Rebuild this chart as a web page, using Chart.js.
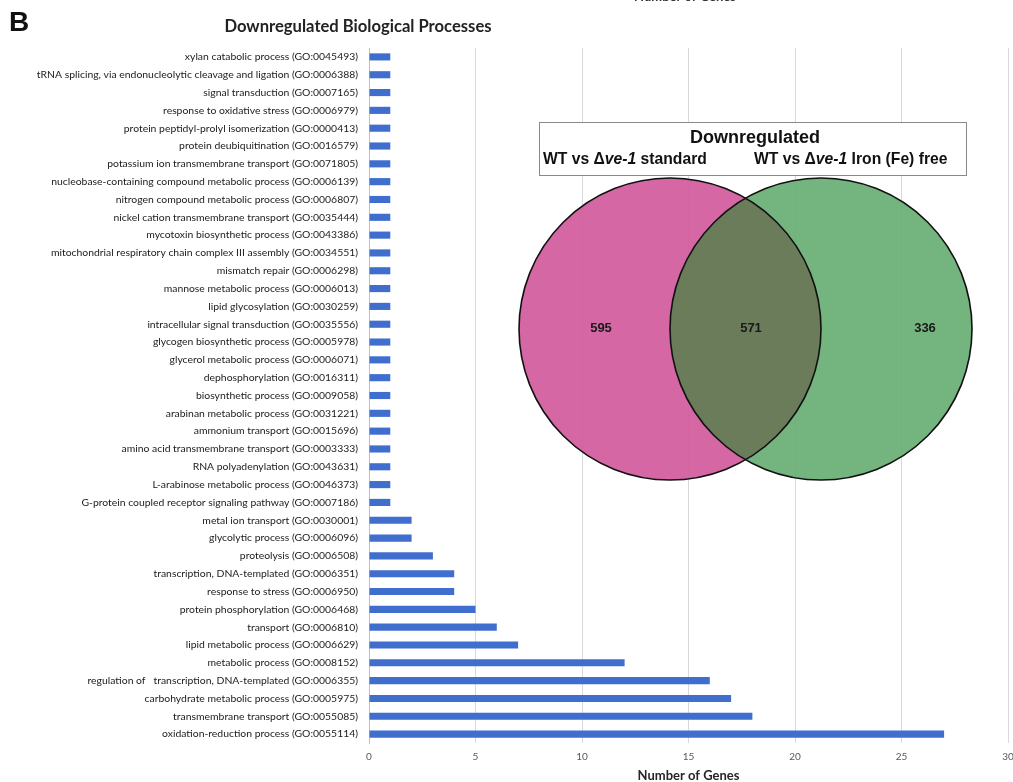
<!DOCTYPE html>
<html>
<head>
<meta charset="utf-8">
<script src="https://cdn.jsdelivr.net/npm/chart.js@4"></script>
<style>
html,body{margin:0;padding:0;background:#fff;overflow:hidden;}
#wrap{position:relative;width:1013px;height:782px;}
</style>
</head>
<body>
<div id="wrap"><canvas id="c" width="1013" height="782"></canvas></div>
<script>
const categories = [
  "xylan catabolic process (GO:0045493)",
  "tRNA splicing, via endonucleolytic cleavage and ligation (GO:0006388)",
  "signal transduction (GO:0007165)",
  "response to oxidative stress (GO:0006979)",
  "protein peptidyl-prolyl isomerization (GO:0000413)",
  "protein deubiquitination (GO:0016579)",
  "potassium ion transmembrane transport (GO:0071805)",
  "nucleobase-containing compound metabolic process (GO:0006139)",
  "nitrogen compound metabolic process (GO:0006807)",
  "nickel cation transmembrane transport (GO:0035444)",
  "mycotoxin biosynthetic process (GO:0043386)",
  "mitochondrial respiratory chain complex III assembly (GO:0034551)",
  "mismatch repair (GO:0006298)",
  "mannose metabolic process (GO:0006013)",
  "lipid glycosylation (GO:0030259)",
  "intracellular signal transduction (GO:0035556)",
  "glycogen biosynthetic process (GO:0005978)",
  "glycerol metabolic process (GO:0006071)",
  "dephosphorylation (GO:0016311)",
  "biosynthetic process (GO:0009058)",
  "arabinan metabolic process (GO:0031221)",
  "ammonium transport (GO:0015696)",
  "amino acid transmembrane transport (GO:0003333)",
  "RNA polyadenylation (GO:0043631)",
  "L-arabinose metabolic process (GO:0046373)",
  "G-protein coupled receptor signaling pathway (GO:0007186)",
  "metal ion transport (GO:0030001)",
  "glycolytic process (GO:0006096)",
  "proteolysis (GO:0006508)",
  "transcription, DNA-templated (GO:0006351)",
  "response to stress (GO:0006950)",
  "protein phosphorylation (GO:0006468)",
  "transport (GO:0006810)",
  "lipid metabolic process (GO:0006629)",
  "metabolic process (GO:0008152)",
  "regulation of   transcription, DNA-templated (GO:0006355)",
  "carbohydrate metabolic process (GO:0005975)",
  "transmembrane transport (GO:0055085)",
  "oxidation-reduction process (GO:0055114)"
];
const geneCounts = [
  1,1,1,1,1,1,1,1,1,1,1,1,1,1,1,1,1,1,1,1,1,1,1,1,1,1,
  2,2,3,4,4,5,6,7,12,16,17,18,27
];
const xTicks = [0,5,10,15,20,25,30];
const chartTitle = "Downregulated Biological Processes";
const panelLetter = "B";
const xAxisTitle = "Number of Genes";

const vennTitle = "Downregulated";
const vennSetA = ["WT vs ", "\u0394", "ve-1", " standard"];
const vennSetB = ["WT vs ", "\u0394", "ve-1", " Iron (Fe) free"];
const vennCounts = { onlyA: 595, both: 571, onlyB: 336 };

const overlayPlugin = {
  id: 'overlay',
  afterDraw(chart) {
    const ctx = chart.ctx;
    ctx.save();
    ctx.fillStyle = '#111';
    ctx.textBaseline = 'middle';
    ctx.textAlign = 'left';
    ctx.font = 'bold 28px "Liberation Sans", Arial, sans-serif';
    ctx.fillText(panelLetter, 9, 23);
    ctx.textAlign = 'center';
    ctx.font = 'bold 16.6px Lato, "Open Sans", sans-serif';
    ctx.fillStyle = '#222';
    ctx.fillText(chartTitle, 358, 27);
    ctx.font = 'bold 13px Lato, sans-serif';
    ctx.fillStyle = '#333';
    ctx.fillText(xAxisTitle, 685, -3);

    ctx.strokeStyle = '#8a8a8a';
    ctx.lineWidth = 1;
    ctx.fillStyle = '#fff';
    ctx.fillRect(539.5, 122.5, 427, 53);
    ctx.strokeRect(539.5, 122.5, 427, 53);
    ctx.fillStyle = '#111';
    ctx.font = 'bold 18px "Liberation Sans", Arial, sans-serif';
    ctx.textAlign = 'center';
    ctx.fillText(vennTitle, 755, 138);

    function drawParts(parts, x, y) {
      ctx.textAlign = 'left';
      let cx = x;
      parts.forEach((p, i) => {
        ctx.font = (i === 2 ? 'italic bold ' : 'bold ') + '15.7px "Liberation Sans", Arial, sans-serif';
        ctx.fillText(p, cx, y);
        cx += ctx.measureText(p).width;
      });
    }
    drawParts(vennSetA, 543, 160);
    drawParts(vennSetB, 754, 160);

    const r = 151, cy = 329, ax = 670, bx = 821;
    ctx.globalAlpha = 0.92;
    ctx.fillStyle = '#d05a9c';
    ctx.beginPath(); ctx.arc(ax, cy, r, 0, Math.PI*2); ctx.fill();
    ctx.fillStyle = '#68ae74';
    ctx.beginPath(); ctx.arc(bx, cy, r, 0, Math.PI*2); ctx.fill();
    ctx.save();
    ctx.beginPath(); ctx.arc(ax, cy, r, 0, Math.PI*2); ctx.clip();
    ctx.globalAlpha = 1;
    ctx.fillStyle = '#6b7c5b';
    ctx.beginPath(); ctx.arc(bx, cy, r, 0, Math.PI*2); ctx.fill();
    ctx.restore();
    ctx.globalAlpha = 1;
    ctx.strokeStyle = '#111';
    ctx.lineWidth = 1.6;
    ctx.beginPath(); ctx.arc(ax, cy, r, 0, Math.PI*2); ctx.stroke();
    ctx.beginPath(); ctx.arc(bx, cy, r, 0, Math.PI*2); ctx.stroke();

    ctx.fillStyle = '#1a1a1a';
    ctx.font = 'bold 13px "Liberation Sans", Arial, sans-serif';
    ctx.textAlign = 'center';
    ctx.fillText(String(vennCounts.onlyA), 601, 328);
    ctx.fillText(String(vennCounts.both), 751, 328);
    ctx.fillText(String(vennCounts.onlyB), 925, 328);
    ctx.restore();
  }
};

new Chart(document.getElementById('c'), {
  type: 'bar',
  data: {
    labels: categories,
    datasets: [{
      data: geneCounts,
      backgroundColor: '#3f6ecf',
      borderWidth: 0,
      barPercentage: 0.4,
      categoryPercentage: 1.0
    }]
  },
  options: {
    indexAxis: 'y',
    responsive: false,
    animation: false,
    layout: { padding: { top: 48, right: 5, bottom: 0, left: 0 } },
    plugins: {
      legend: { display: false },
      tooltip: { enabled: false },
      title: { display: false }
    },
    scales: {
      x: {
        min: 0, max: 30,
        afterBuildTicks(scale) { scale.ticks = xTicks.map(v => ({ value: v })); },
        afterFit(scale) { scale.height = 39; scale.paddingRight = 0; scale.paddingLeft = 0; },
        grid: { color: '#d9d9d9', lineWidth: 1, drawTicks: false },
        border: { display: false },
        ticks: { padding: 8, color: '#595959', font: { family: 'Lato', size: 10 } },
        title: { display: true, text: xAxisTitle, color: '#262626',
                 font: { family: 'Lato', size: 13, weight: 'bold' }, padding: { top: 0, bottom: -2 } }
      },
      y: {
        afterFit(scale) { scale.width = 369; },
        grid: { display: false, drawTicks: false },
        border: { display: true, color: '#bfbfbf', width: 1 },
        ticks: { padding: 11, color: '#1a1a1a', autoSkip: false, font: { family: 'Lato', size: 10.4 } }
      }
    }
  },
  plugins: [overlayPlugin]
});
</script>
</body>
</html>
